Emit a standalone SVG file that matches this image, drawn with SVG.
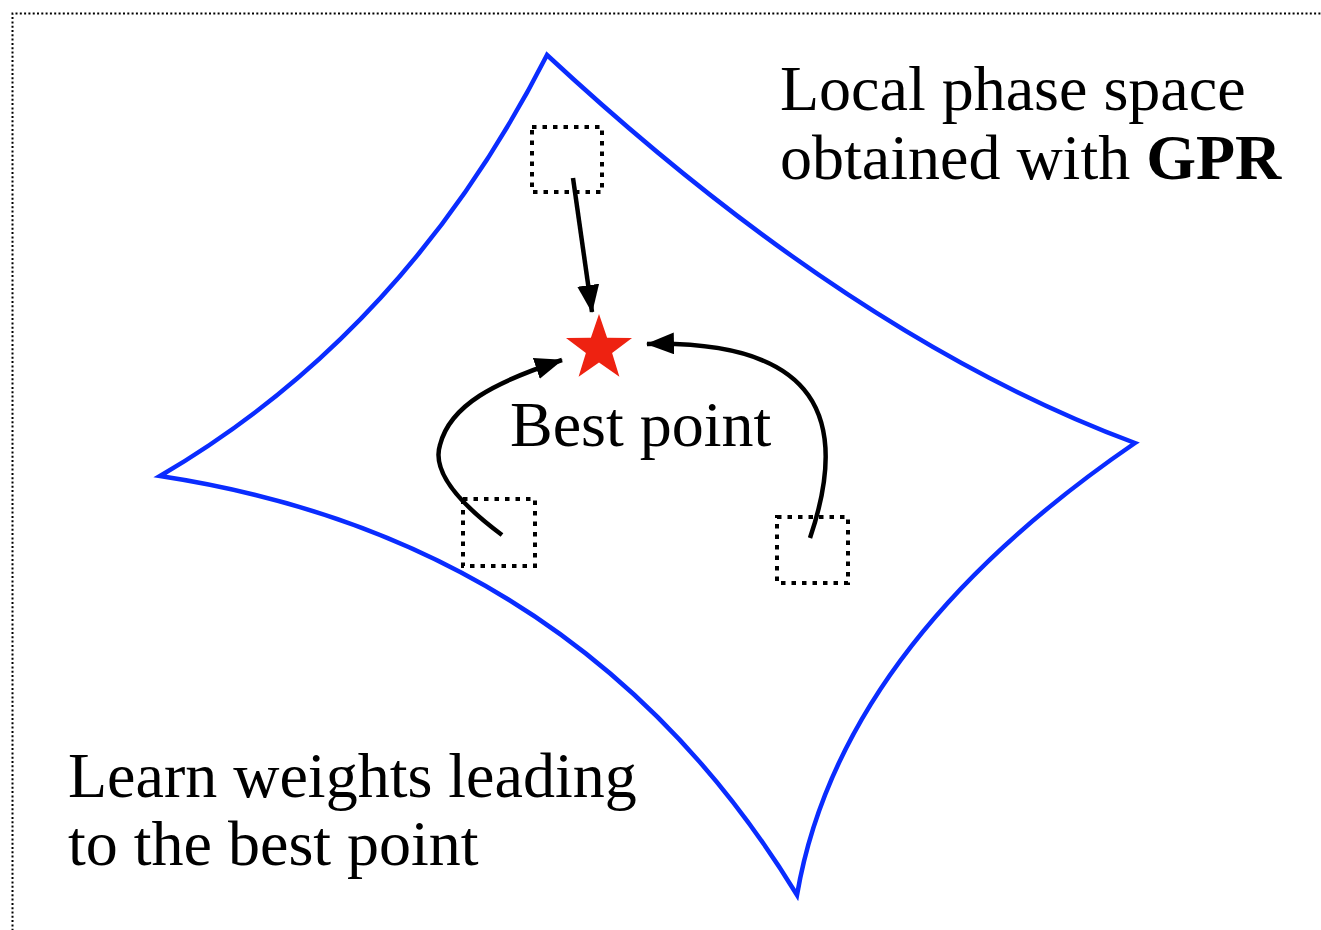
<svg xmlns="http://www.w3.org/2000/svg" width="1321" height="930" viewBox="0 0 1321 930">
<style>
  .txt { font-family: "Liberation Serif", "Times New Roman", serif; font-size: 64px; fill: #000; }
  .box { fill: none; stroke: #000; stroke-width: 4; stroke-dasharray: 4.5 6; }
  .conn { fill: none; stroke: #000; stroke-width: 4.5; }
</style>
<defs>
  <marker id="arrow" markerUnits="userSpaceOnUse" viewBox="0 0 28 22" refX="27" refY="11" markerWidth="28" markerHeight="22" orient="auto">
    <path d="M0,0 L28,11 L0,22 z" fill="#000"/>
  </marker>
</defs>
<rect width="1321" height="930" fill="#fff"/>
<path d="M12.5,935 V13.5 H1325" fill="none" stroke="#000" stroke-width="2" stroke-dasharray="2 2.3"/>
<g id="phase-space">
  <path d="M547,55 Q852,338 1135,443 Q840,645 797,895 Q580,540 160,476 Q406,332 547,55 Z" fill="none" stroke="#0a2cff" stroke-width="4.5" stroke-linejoin="miter"/>
</g>
<g id="box-top"><rect class="box" x="532" y="127" width="70" height="65"/></g>
<g id="box-left"><rect class="box" x="463" y="499" width="72" height="67"/></g>
<g id="box-right"><rect class="box" x="777" y="517" width="71" height="66"/></g>
<g id="best-point">
  <polygon fill="#ee2211" points="599,314 607.1,337.7 632,338 612.1,352.9 619.4,376.8 599,362.4 578.6,376.8 585.9,352.9 566,338 590.9,337.7"/>
  <text class="txt" x="510" y="446">Best point</text>
</g>
<g id="connectors">
  <path class="conn" d="M573,178 L592,312" marker-end="url(#arrow)"/>
  <path class="conn" d="M502,535 C455,500 432,470 440,445 C450,405 495,382 562,360" marker-end="url(#arrow)"/>
  <path class="conn" d="M810,538 C850,420 820,340 647,344" marker-end="url(#arrow)"/>
</g>
<g id="label-gpr">
  <text class="txt" x="780" y="110">Local phase space</text>
  <text class="txt" x="780" y="179">obtained with <tspan font-weight="bold">GPR</tspan></text>
</g>
<g id="label-learn">
  <text class="txt" x="68" y="797">Learn weights leading</text>
  <text class="txt" x="68" y="865">to the best point</text>
</g>
</svg>
